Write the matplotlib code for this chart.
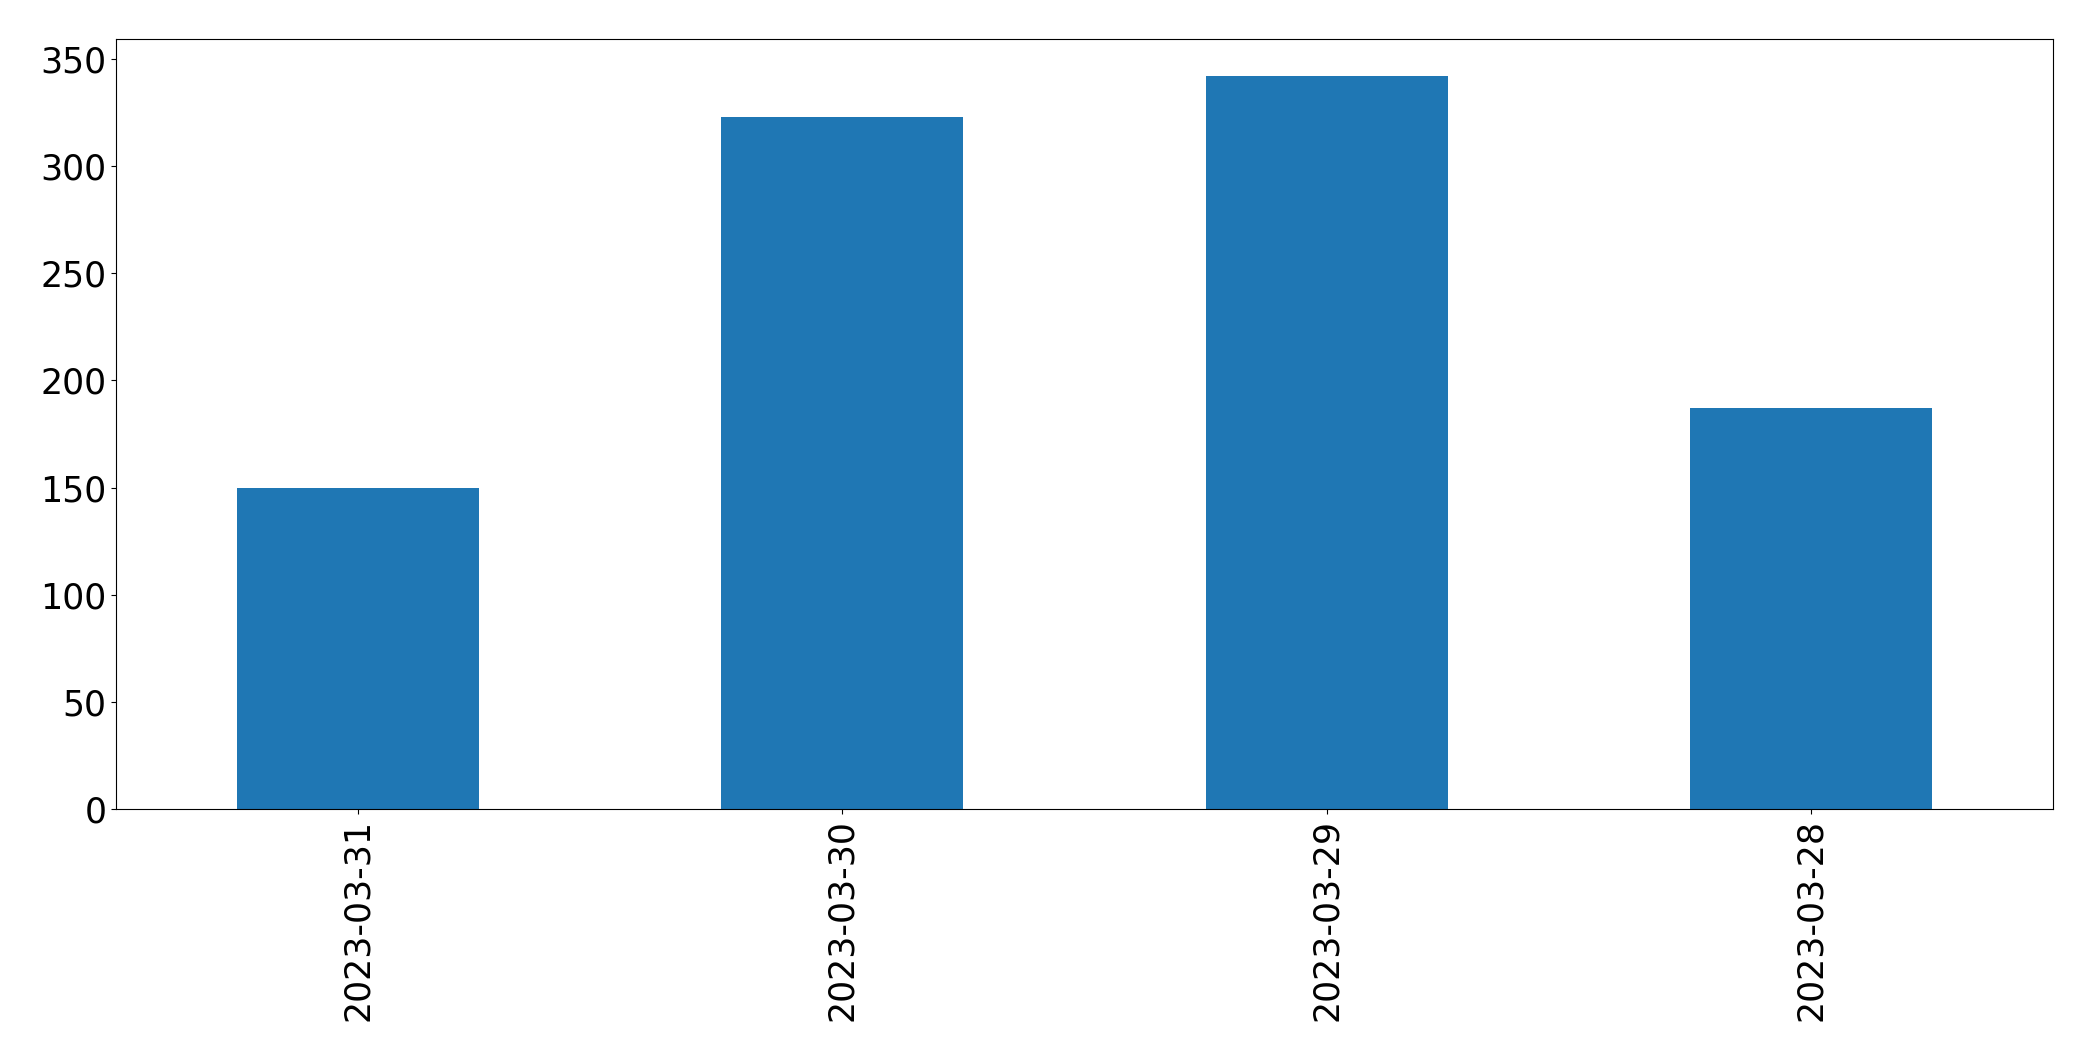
import matplotlib
matplotlib.use("Agg")
import matplotlib.pyplot as plt

categories = ["2023-03-31", "2023-03-30", "2023-03-29", "2023-03-28"]
values = [150, 323, 342, 187]

fig = plt.figure(figsize=(20.93, 10.61), dpi=100)
ax = fig.add_axes([116/2093, 1 - 809.3/1061, (2053-116)/2093, (809.3-39.3)/1061])
x = list(range(len(categories)))
ax.bar(x, values, width=0.5, color="#1f77b4")
ax.set_xlim(-0.5, len(categories) - 0.5)
ax.set_ylim(0, max(values) * 1.05)
ax.set_xticks(x)
ax.set_xticklabels(categories, rotation=90)
ax.tick_params(labelsize=25)
fig.savefig("out.png", dpi=100)
